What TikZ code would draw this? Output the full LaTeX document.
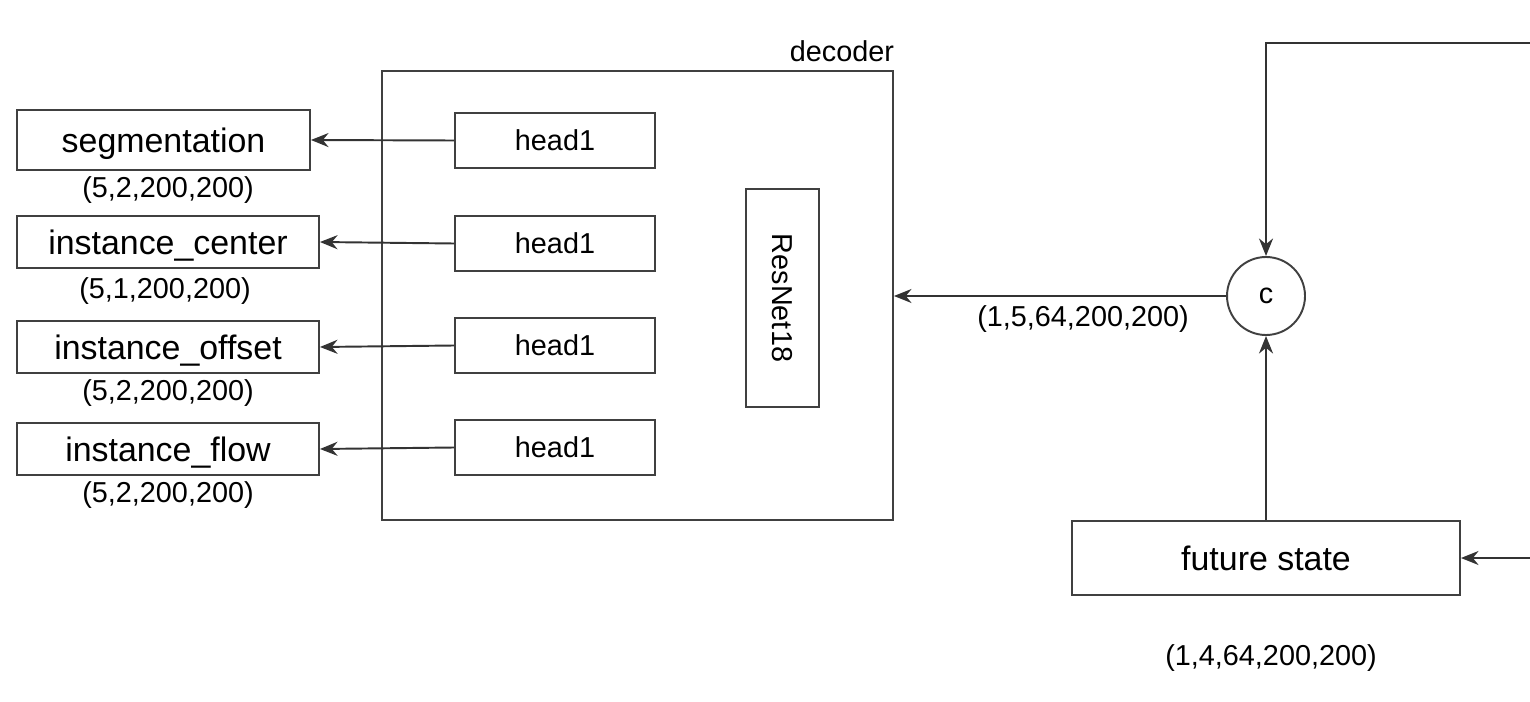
\documentclass[tikz,border=0pt]{standalone}
\usepackage{fontspec}
\setmainfont{Liberation Sans}
\usetikzlibrary{arrows.meta}

\begin{document}
\begin{tikzpicture}[x=0.02cm,y=-0.02cm,line width=1.1pt,
    box/.style={draw=black!75,inner sep=0pt,text height=18pt,text depth=3.9pt,font=\fontsize{19.3}{22}\selectfont},
    small/.style={inner sep=0pt,text height=11.8pt,text depth=0pt,font=\fontsize{16.4}{19}\selectfont},
    arr/.style={-{Stealth[length=10pt,width=8pt]},draw=black!80}]
  \useasboundingbox (0,0) rectangle (1530,702);
  \node[box,minimum width=511*0.02cm,minimum height=449*0.02cm](dec) at (637.5,295.5){};
  \node[small,anchor=south east](declabel) at (895,62){decoder};
  \node[box,small,draw,minimum width=200*0.02cm,minimum height=55*0.02cm](h1) at (555,140.5){head1};
  \node[box,small,draw,minimum width=200*0.02cm,minimum height=55*0.02cm](h2) at (555,243.5){head1};
  \node[box,small,draw,minimum width=200*0.02cm,minimum height=55*0.02cm](h3) at (555,345.5){head1};
  \node[box,small,draw,minimum width=200*0.02cm,minimum height=55*0.02cm](h4) at (555,447.5){head1};
  \node[box,small,draw,minimum width=218*0.02cm,minimum height=73*0.02cm,rotate=-90](res) at (782.5,298){ResNet18};
  \node[box,minimum width=293*0.02cm,minimum height=60*0.02cm](seg) at (163.5,140){segmentation};
  \node[box,minimum width=302*0.02cm,minimum height=52*0.02cm](cen) at (168,242){instance\_center};
  \node[box,minimum width=302*0.02cm,minimum height=52*0.02cm](off) at (168,347){instance\_offset};
  \node[box,minimum width=302*0.02cm,minimum height=52*0.02cm](flo) at (168,449){instance\_flow};
  \node[small](segdim) at (168,187){(5,2,200,200)};
  \node[small](cendim) at (165,288){(5,1,200,200)};
  \node[small](offdim) at (168,390){(5,2,200,200)};
  \node[small](flodim) at (168,492){(5,2,200,200)};
  \node[box,small,text height=8.5pt,circle,minimum size=78*0.02cm](cat) at (1266,296){c};
  \node[small](catdim) at (1083,316){(1,5,64,200,200)};
  \node[box,minimum width=388*0.02cm,minimum height=74*0.02cm](fut) at (1266,558){future state};
  \node[small](futdim) at (1271,655){(1,4,64,200,200)};
  \coordinate(topin) at (1530,43);
  \coordinate(rightin) at (1530,558);
  \draw[arr] (h1.west)--(seg.east);
  \draw[arr] (h2.west)--(cen.east);
  \draw[arr] (h3.west)--(off.east);
  \draw[arr] (h4.west)--(flo.east);
  \draw[arr] (cat.west)--(dec.east|-cat.west);
  \draw[arr] (topin)-|(cat.north);
  \draw[arr] (fut.north)--(cat.south);
  \draw[arr] (rightin)--(fut.east);
\end{tikzpicture}
\end{document}
